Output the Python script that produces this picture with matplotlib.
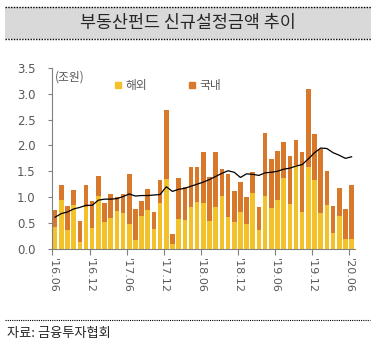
import numpy as np
import matplotlib.pyplot as plt
from matplotlib.patches import Rectangle
from matplotlib.lines import Line2D

plt.rcParams['font.family'] = ['DejaVu Sans', 'Noto Sans CJK KR']

# 해외 (조원)
overseas = [0.42, 0.94, 0.36, 0.85, 0.13, 0.81, 0.41, 1.03, 0.52, 0.59, 0.73, 0.70,
            0.48, 0.17, 0.63, 0.74, 0.38, 0.89, 1.35, 0.09, 0.57, 0.56, 0.81, 0.91,
            0.88, 0.54, 0.81, 1.03, 0.61, 0.51, 0.71, 0.48, 1.07, 0.36, 1.02, 0.79,
            0.94, 1.36, 0.87, 1.62, 0.71, 1.58, 1.34, 0.70, 0.85, 0.30, 0.64, 0.18,
            0.18]
# 국내 (조원)
domestic = [0.32, 0.29, 0.47, 0.28, 0.41, 0.42, 0.51, 0.38, 0.36, 0.46, 0.27, 0.36,
            0.97, 0.60, 0.30, 0.42, 0.33, 0.44, 1.34, 0.19, 0.79, 0.64, 0.77, 0.67,
            1.00, 0.85, 1.07, 0.51, 0.83, 0.61, 0.58, 0.53, 0.41, 0.45, 1.23, 0.95,
            0.96, 0.71, 0.92, 0.49, 1.16, 1.51, 0.88, 1.24, 0.65, 0.53, 0.54, 0.58,
            1.06]
# 추이선
trend = [0.61, 0.68, 0.71, 0.77, 0.80, 0.84, 0.84, 0.94, 0.96, 0.96, 0.97, 1.01,
         1.06, 1.02, 1.03, 1.03, 1.04, 1.05, 1.20, 1.11, 1.15, 1.17, 1.21, 1.25,
         1.29, 1.34, 1.40, 1.46, 1.51, 1.48, 1.38, 1.45, 1.44, 1.42, 1.47, 1.48,
         1.50, 1.54, 1.56, 1.60, 1.63, 1.74, 1.86, 1.95, 1.94, 1.86, 1.81, 1.75,
         1.78]
tick_labels = ["'16.06", "'16.12", "'17.06", "'17.12", "'18.06",
               "'18.12", "'19.06", "'19.12", "'20.06"]

yellow = '#F3C22B'
orange = '#D8782B'
grey = '#595959'

fig = plt.figure(figsize=(3.79, 3.50), dpi=100)
ax = fig.add_axes([52/379, 101.3/350, 303/379, 180.7/350])

x = np.arange(len(overseas))
ax.bar(x, overseas, width=0.74, color=yellow, linewidth=0)
ax.bar(x, domestic, width=0.74, bottom=overseas, color=orange, linewidth=0)
ax.plot(x, trend, color='black', lw=0.9)

ax.set_xlim(-0.5, 48.55)
ax.set_ylim(0, 3.5)
ax.set_yticks(np.arange(0, 3.51, 0.5))
ax.set_yticklabels([f'{v:.1f}' for v in np.arange(0, 3.51, 0.5)])
ax.set_xticks(x[::6] - 0.42)
ax.set_xticklabels(tick_labels, rotation=270)

for s in ['top', 'right']:
    ax.spines[s].set_visible(False)
for s in ['left', 'bottom']:
    ax.spines[s].set_color('#808080')
    ax.spines[s].set_linewidth(0.8)
ax.tick_params(axis='y', length=3, width=0.8, color='#808080', pad=9,
               labelsize=8.5, labelcolor=grey)
ax.tick_params(axis='x', length=4, width=0.8, color='#808080', pad=3,
               labelsize=8, labelcolor=grey)

# 범례
ax.text(0.01, 0.985, '(조원)', transform=ax.transAxes, ha='left', va='top',
        fontsize=8.5, color=grey, family=['Noto Sans CJK KR', 'DejaVu Sans'])
fig.patches.append(Rectangle((115/379, 1 - 88/350), 6/379, 6/350,
                             transform=fig.transFigure, color=yellow))
fig.text(125/379, 1 - 85/350, '해외', ha='left', va='center', fontsize=8.5,
         color=grey, family='Noto Sans CJK KR')
fig.patches.append(Rectangle((189/379, 1 - 88/350), 6/379, 6/350,
                             transform=fig.transFigure, color=orange))
fig.text(199/379, 1 - 85/350, '국내', ha='left', va='center', fontsize=8.5,
         color=grey, family='Noto Sans CJK KR')

# 제목 박스
fig.patches.append(Rectangle((5/379, 1 - 39/350), 366/379, 32/350,
                             transform=fig.transFigure, color='#D9D9D9', lw=0))
for yy in [7, 39]:
    fig.lines.append(Line2D([5/379, 371/379], [1 - yy/350, 1 - yy/350],
                            transform=fig.transFigure, color='black', lw=1,
                            linestyle=(0, (1, 1))))
fig.text(188/379, 1 - 23/350, '부동산펀드 신규설정금액 추이', ha='center', va='center',
         fontsize=12.5, color='#262626', family='Noto Sans CJK KR')

# 출처
fig.lines.append(Line2D([5/379, 370/379], [1 - 320/350, 1 - 320/350],
                        transform=fig.transFigure, color='black', lw=0.8,
                        linestyle=(0, (1, 1))))
fig.text(7/379, 1 - 334/350, '자료: 금융투자협회', ha='left', va='center',
         fontsize=9.5, color='#262626', family='Noto Sans CJK KR')

fig.savefig('out.png', dpi=100)
